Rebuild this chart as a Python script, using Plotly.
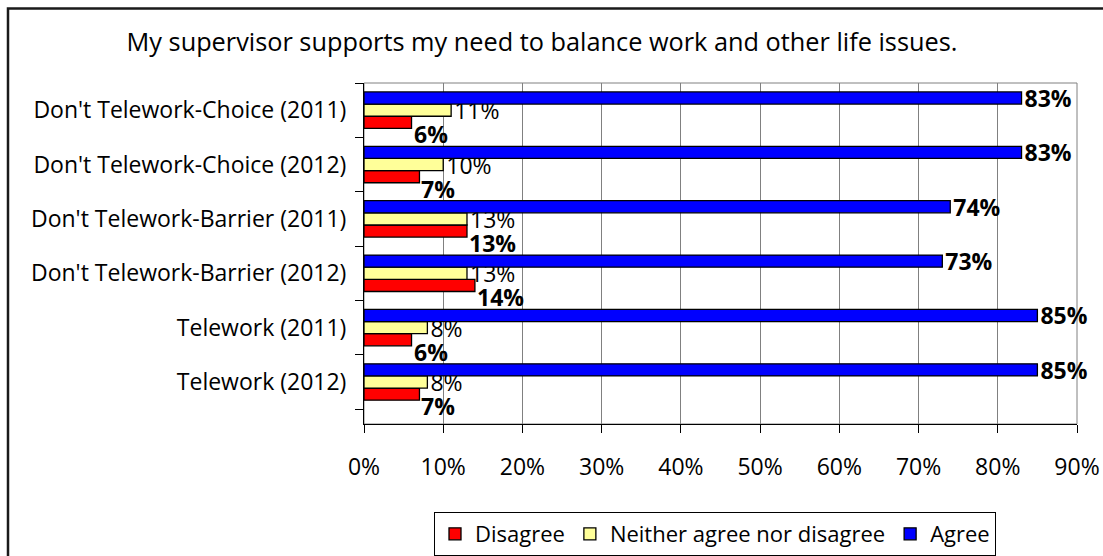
import plotly.graph_objects as go

# Categories listed bottom-to-top (as in the source chart's category axis)
categories = [
    "Telework (2012)",
    "Telework (2011)",
    "Don't Telework-Barrier (2012)",
    "Don't Telework-Barrier (2011)",
    "Don't Telework-Choice (2012)",
    "Don't Telework-Choice (2011)",
]
disagree = [7, 6, 14, 13, 7, 6]
neither = [8, 8, 13, 13, 10, 11]
agree = [85, 85, 73, 74, 83, 83]

series_names = ["Disagree", "Neither agree nor disagree", "Agree"]
tick_vals = [0, 10, 20, 30, 40, 50, 60, 70, 80, 90]
tick_text = ["0%", "10%", "20%", "30%", "40%", "50%", "60%", "70%", "80%", "90%"]

FONT = "Open Sans, Lato, sans-serif"
FS = 23
W, H = 1103, 556
ML, MR, MT, MB = 364, 26, 83, 132
PW, PH = W - ML - MR, H - MT - MB

fig = go.Figure()
fig.add_trace(go.Bar(
    y=categories, x=disagree, name=series_names[0], orientation="h",
    marker=dict(color="#FF0000", line=dict(color="#000000", width=1.3)),
))
fig.add_trace(go.Bar(
    y=categories, x=neither, name=series_names[1], orientation="h",
    marker=dict(color="#FFFF99", line=dict(color="#000000", width=1.3)),
    text=[f"{v}%" for v in neither], textposition="outside",
    textfont=dict(family=FONT, size=FS, color="#000000"),
    constraintext="none", cliponaxis=False,
))
fig.add_trace(go.Bar(
    y=categories, x=agree, name=series_names[2], orientation="h",
    marker=dict(color="#0000FF", line=dict(color="#000000", width=1.3)),
    text=[f"<b>{v}%</b>" for v in agree], textposition="outside",
    textfont=dict(family=FONT, size=FS, color="#000000"),
    constraintext="none", cliponaxis=False,
))

# Disagree labels (sit slightly below their bars, as in the original)
for c, v in zip(categories, disagree):
    fig.add_annotation(
        x=v, y=c, xref="x", yref="y", text=f"<b>{v}%</b>",
        showarrow=False, xanchor="left", yanchor="middle",
        xshift=0, yshift=-24,
        font=dict(family=FONT, size=FS, color="#000000"),
    )

# plot-area frame (grey) and outer chart border
fig.add_shape(type="rect", xref="paper", yref="paper", x0=0, y0=0, x1=1, y1=1,
              line=dict(color="#808080", width=1), layer="below")
fig.add_shape(type="rect", xref="paper", yref="paper",
              x0=(8 - ML) / PW, x1=(W + 20 - ML) / PW,
              y0=-(H + 20 - MT - PH) / PH, y1=(MT + PH - 8.5) / PH,
              line=dict(color="#1a1a1a", width=2.5), layer="below")

fig.update_layout(
    width=W, height=H,
    margin=dict(l=ML, r=MR, t=MT, b=MB, pad=0, autoexpand=False),
    paper_bgcolor="white", plot_bgcolor="white",
    font=dict(family=FONT, size=FS, color="#000000"),
    barmode="group", bargap=0.33, bargroupgap=0,
    title=dict(text="My supervisor supports my need to balance work and other life issues.",
               x=542 / W, xanchor="center", y=1 - 42 / H, yanchor="middle",
               font=dict(family=FONT, size=25.3, color="#000000")),
    showlegend=True,
    legend=dict(orientation="h", x=(715 - ML) / PW, xanchor="center",
                y=-(512 - MT - PH) / PH, yanchor="top",
                bordercolor="#000000", borderwidth=1, bgcolor="white",
                font=dict(family=FONT, size=22, color="#000000"),
                itemwidth=30, traceorder="normal"),
    xaxis=dict(range=[0, 90], tickvals=tick_vals, ticktext=tick_text,
               showgrid=True, gridcolor="#808080", gridwidth=1,
               showline=True, linecolor="#000000", linewidth=1,
               ticks="outside", ticklen=8, tickcolor="#000000",
               ticklabelstandoff=14, zeroline=False, automargin=False,
               tickfont=dict(family=FONT, size=FS)),
    yaxis=dict(categoryorder="array", categoryarray=categories,
               showgrid=False, showline=True, linecolor="#000000", linewidth=1,
               ticks="outside", ticklen=8, tickcolor="#000000",
               tickson="boundaries", ticklabelstandoff=12, automargin=False,
               tickfont=dict(family=FONT, size=FS)),
)

fig.write_html("out.html")
